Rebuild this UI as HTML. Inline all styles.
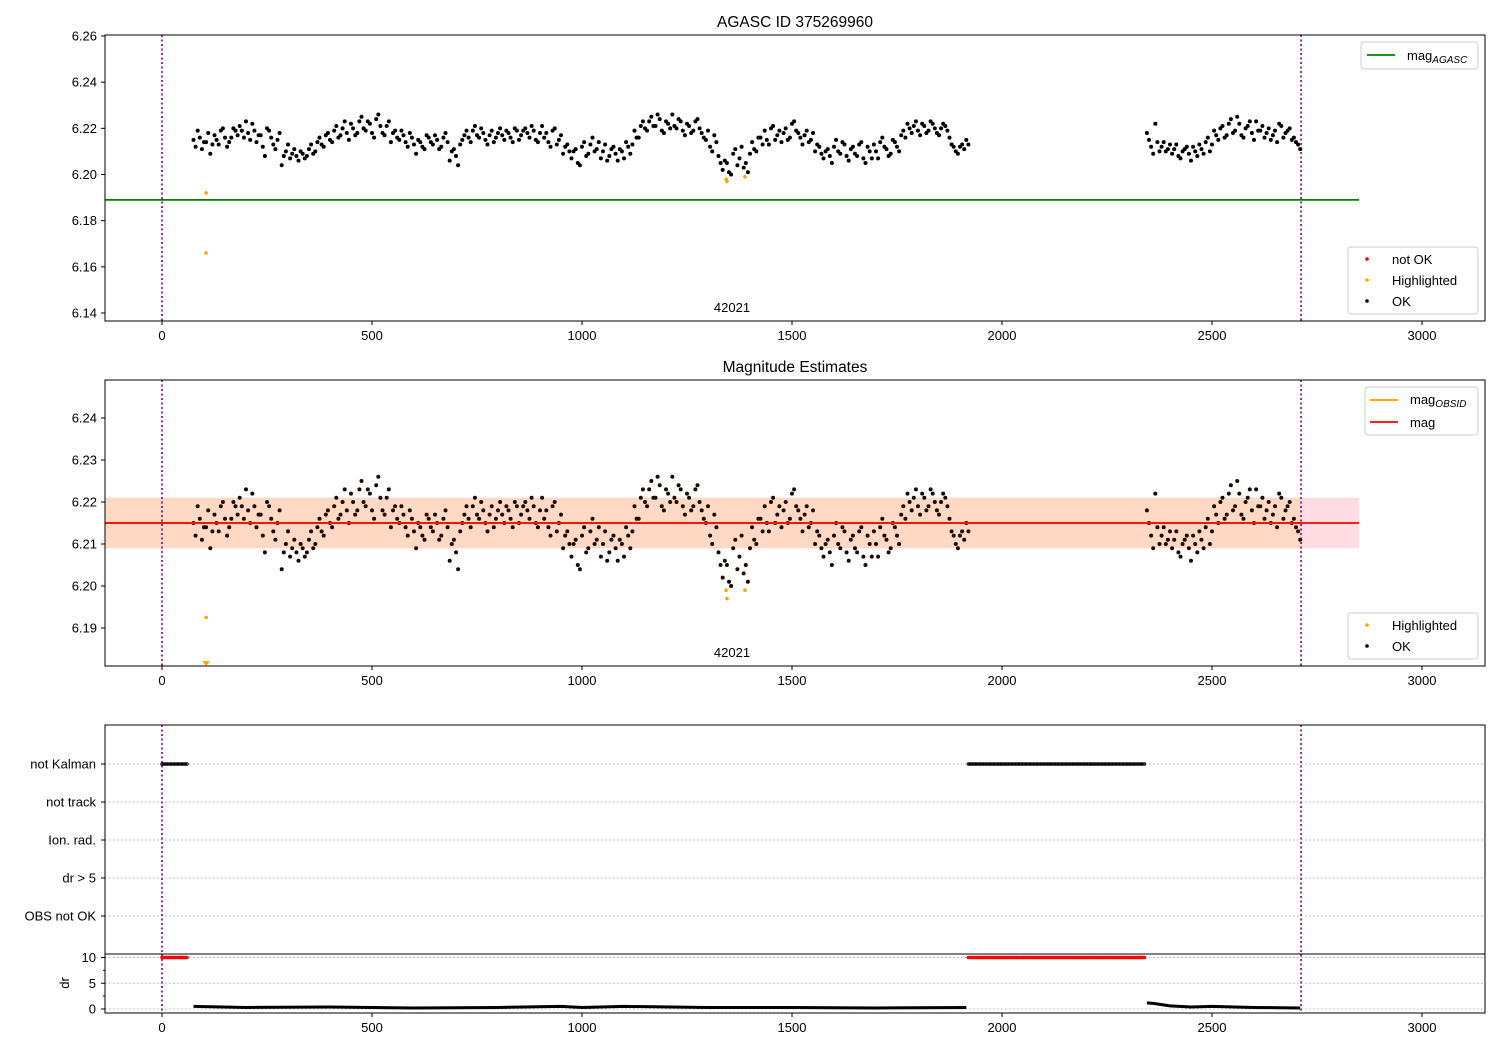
<!DOCTYPE html>
<html><head><meta charset="utf-8">
<style>
html,body{margin:0;padding:0;background:#fff;}
svg{display:block;font-family:"Liberation Sans","DejaVu Sans",sans-serif;}
</style></head>
<body>
<svg id="chart" width="1500" height="1050" xmlns="http://www.w3.org/2000/svg"></svg>
<script>
// ---- data ----
const seg1Start = 75, seg2Start = 2345, stepT = 10;
const mags1 = [
6.215,6.219,6.211,6.214,6.209,6.217,6.213,6.220,6.212,6.216,
6.219,6.221,6.216,6.218,6.222,6.214,6.217,6.208,6.219,6.213,
6.215,6.204,6.210,6.207,6.211,6.206,6.209,6.208,6.213,6.210,
6.216,6.212,6.218,6.214,6.221,6.217,6.223,6.215,6.220,6.218,
6.225,6.219,6.222,6.216,6.226,6.218,6.221,6.214,6.219,6.215,
6.217,6.212,6.216,6.209,6.214,6.211,6.216,6.213,6.215,6.212,
6.218,6.206,6.211,6.204,6.215,6.219,6.214,6.221,6.216,6.218,
6.213,6.219,6.216,6.220,6.215,6.218,6.214,6.219,6.217,6.220,
6.216,6.219,6.214,6.221,6.218,6.212,6.220,6.215,6.209,6.213,
6.207,6.211,6.204,6.214,6.209,6.216,6.211,6.207,6.213,6.208,
6.212,6.206,6.210,6.214,6.209,6.219,6.216,6.223,6.219,6.225,
6.221,6.224,6.218,6.222,6.226,6.220,6.223,6.217,6.221,6.219,
6.224,6.218,6.215,6.212,6.217,6.208,6.202,6.205,6.200,6.211,
6.207,6.203,6.201,6.214,6.210,6.216,6.219,6.213,6.221,6.217,
6.214,6.220,6.216,6.223,6.218,6.213,6.219,6.215,6.210,6.212,
6.207,6.211,6.205,6.215,6.209,6.213,6.206,6.212,6.208,6.214,
6.205,6.210,6.213,6.207,6.216,6.211,6.209,6.214,6.210,6.219,
6.222,6.218,6.223,6.217,6.221,6.219,6.222,6.218,6.220,6.221,
6.216,6.212,6.209,6.213,6.215];
const mags1b = [
6.212,6.216,6.214,6.218,6.213,6.215,6.219,6.216,6.214,6.220,
6.217,6.219,6.223,6.215,6.219,6.217,6.212,6.220,6.216,6.211,
6.218,6.208,6.213,6.209,6.208,6.210,6.207,6.211,6.209,6.214,
6.213,6.217,6.215,6.219,6.216,6.220,6.218,6.222,6.217,6.223,
6.220,6.223,6.218,6.224,6.221,6.217,6.223,6.218,6.216,6.219,
6.214,6.218,6.213,6.215,6.212,6.217,6.214,6.217,6.211,6.216,
6.214,6.210,6.208,6.213,6.217,6.216,6.219,6.217,6.220,6.215,
6.217,6.214,6.218,6.217,6.219,6.216,6.220,6.215,6.219,6.218,
6.221,6.215,6.218,6.216,6.214,6.219,6.213,6.217,6.212,6.210,
6.210,6.205,6.212,6.208,6.213,6.210,6.214,6.210,6.206,6.211,
6.209,6.211,6.207,6.212,6.213,6.216,6.221,6.220,6.223,6.221,
6.226,6.219,6.223,6.220,6.221,6.224,6.219,6.222,6.218,6.223,
6.220,6.216,6.219,6.210,6.214,6.205,6.206,6.201,6.209,6.204,
6.212,6.205,6.209,6.211,6.216,6.213,6.215,6.220,6.215,6.219,
6.218,6.215,6.222,6.219,6.216,6.217,6.214,6.218,6.213,6.209,
6.210,6.208,6.212,6.210,6.214,6.208,6.211,6.209,6.213,6.207,
6.212,6.207,6.210,6.214,6.212,6.208,6.215,6.212,6.217,6.216,
6.220,6.221,6.219,6.222,6.218,6.223,6.220,6.217,6.222,6.219,
6.213,6.210,6.212,6.211,6.213];
const mags2 = [
6.218,6.212,6.222,6.210,6.214,6.211,6.209,6.213,6.207,6.211,
6.209,6.212,6.208,6.211,6.214,6.210,6.219,6.215,6.221,6.217,
6.224,6.219,6.222,6.216,6.221,6.218,6.223,6.219,6.216,6.220,
6.217,6.214,6.221,6.218,6.220,6.216,6.213];
const mags2b = [
6.215,6.209,6.214,6.212,6.210,6.213,6.211,6.208,6.210,6.212,
6.206,6.210,6.213,6.209,6.216,6.213,6.217,6.220,6.216,6.222,
6.218,6.225,6.217,6.220,6.223,6.215,6.219,6.221,6.218,6.215,
6.219,6.222,6.216,6.219,6.215,6.214,6.211];
const hlTimes1 = [105,105,1343,1345,1388];
const hlMags1 = [6.192,6.166,6.198,6.197,6.199];
const hlTimes2 = [105,1343,1345,1388];
const hlMags2 = [6.1925,6.199,6.197,6.199];
const magAgasc = 6.189;
const magObsid = 6.215, magObsidErr = 0.006;
const mag = 6.215, magErr = 0.006;
const notKalmanRanges = [[0,62],[1920,2342]];
const drTimes = [75,200,400,600,800,950,1000,1100,1300,1500,1700,1915,2345,2360,2400,2450,2500,2600,2710];
const drVals  = [0.5,0.3,0.4,0.2,0.3,0.5,0.3,0.5,0.3,0.3,0.2,0.3,1.2,1.1,0.6,0.4,0.5,0.3,0.2];
const xTicks = [0,500,1000,1500,2000,2500,3000];
const yTicks1 = [6.14,6.16,6.18,6.20,6.22,6.24,6.26];
const yTicks2 = [6.19,6.20,6.21,6.22,6.23,6.24];
const catLabels = ["not Kalman","not track","Ion. rad.","dr > 5","OBS not OK"];
const drTicks = [0,5,10];
const obsStart = 0, obsEnd = 2712, lineEnd = 2850;

// ---- helpers ----
const svg = document.getElementById('chart');
const NS = 'http://www.w3.org/2000/svg';
function mk(tag, attrs, parent){ const e=document.createElementNS(NS,tag); for(const k in attrs) e.setAttribute(k,attrs[k]); (parent||svg).appendChild(e); return e; }
const X0=105, X1=1485;
function xs(t){ return 162 + t*0.42; }
function y1(m){ return 313 - (m-6.14)/0.12*277; }
function y2(m){ return 628 - (m-6.19)/0.05*210; }
function ydr(d){ return 1009 - d*5.15; }
const catY = [764,802,840,878,916];

function xAxis(yb){
  xTicks.forEach(t=>{
    mk('line',{x1:xs(t),x2:xs(t),y1:yb,y2:yb+4,stroke:'#000'});
    const tx=mk('text',{x:xs(t),y:yb+19,'font-size':13,'text-anchor':'middle'}); tx.textContent=t;
    
    
  });
}
function frame(y0,y1_,name){
  const r=mk('rect',{x:X0,y:y0,width:X1-X0,height:y1_-y0,fill:'none',stroke:'#000','stroke-width':1});
  
  
}
function vlines(y0,y1_){
  [obsStart,obsEnd].forEach(t=>{
    const l=mk('line',{x1:xs(t),x2:xs(t),y1:y0,y2:y1_,stroke:'#800080','stroke-width':1.6,'stroke-dasharray':'2,2.5'});
    
    
  });
}
function dots(ts, ms, yf, color, r, name){
  const g=mk('g',{});
  
  
  ts.forEach((t,i)=>{ mk('circle',{cx:xs(t),cy:yf(ms[i]),r:r,fill:color},g); });
}
const t1 = mags1.map((_,i)=>seg1Start+i*stepT);
const t1b = mags1b.map((_,i)=>seg1Start+5+i*stepT);
const t2 = mags2.map((_,i)=>seg2Start+i*stepT);
const t2b = mags2b.map((_,i)=>seg2Start+5+i*stepT);

// ================= Panel 1 =================
(function(){
  const top=35,bot=321;
  let tt=mk('text',{x:795,y:27,'font-size':15.5,'text-anchor':'middle'}); tt.textContent='AGASC ID 375269960';
   
  yTicks1.forEach(v=>{
    const y=y1(v); mk('line',{x1:X0-4,x2:X0,y1:y,y2:y,stroke:'#000'});
    const t=mk('text',{x:X0-8,y:y+4.5,'font-size':13,'text-anchor':'end'}); t.textContent=v.toFixed(2);
     
  });
  const gl=mk('line',{x1:X0,x2:xs(lineEnd),y1:y1(magAgasc),y2:y1(magAgasc),stroke:'#008000','stroke-width':1.8});
   
  vlines(top,bot);
  dots(t1,mags1,y1,'#000',2,'ok-points-seg1');
  dots(t1b,mags1b,y1,'#000',2,'ok-points-seg1b');
  dots(t2,mags2,y1,'#000',2,'ok-points-seg2');
  dots(t2b,mags2b,y1,'#000',2,'ok-points-seg2b');
  dots(hlTimes1,hlMags1,y1,'orange',1.8,'highlighted-points');
  let o=mk('text',{x:732,y:312,'font-size':13,'text-anchor':'middle'}); o.textContent='42021';
   
  frame(top,bot,'top-axes');
  xAxis(bot);
  const lg=mk('g',{});  
  mk('rect',{x:1361,y:42,width:117,height:27,rx:3,fill:'#fff',stroke:'#ccc'},lg);
  mk('line',{x1:1367,x2:1395,y1:55,y2:55,stroke:'#008000','stroke-width':1.8},lg);
  let lt=mk('text',{x:1407,y:60,'font-size':13},lg); lt.innerHTML='mag<tspan font-size="10" font-style="italic" dy="3">AGASC</tspan>';
  const lg2=mk('g',{});  
  mk('rect',{x:1348,y:247,width:130,height:67,rx:3,fill:'#fff',stroke:'#ccc'},lg2);
  [['not OK','red',259],['Highlighted','orange',280],['OK','#000',301]].forEach(([s,c,y])=>{
    mk('circle',{cx:1367,cy:y,r:1.8,fill:c},lg2);
    const t=mk('text',{x:1392,y:y+5,'font-size':13},lg2); t.textContent=s;
  });
})();

// ================= Panel 2 =================
(function(){
  const top=380,bot=666;
  let tt=mk('text',{x:795,y:372,'font-size':15.5,'text-anchor':'middle'}); tt.textContent='Magnitude Estimates';
   
  yTicks2.forEach(v=>{
    const y=y2(v); mk('line',{x1:X0-4,x2:X0,y1:y,y2:y,stroke:'#000'});
    const t=mk('text',{x:X0-8,y:y+4.5,'font-size':13,'text-anchor':'end'}); t.textContent=v.toFixed(2);
     
  });
  const b1=mk('rect',{x:X0,y:y2(mag+magErr),width:xs(lineEnd)-X0,height:y2(mag-magErr)-y2(mag+magErr),fill:'#ffdde3'});
   
  const b2=mk('rect',{x:X0,y:y2(magObsid+magObsidErr),width:xs(obsEnd)-X0,height:y2(magObsid-magObsidErr)-y2(magObsid+magObsidErr),fill:'#ffd9c3'});
   
  vlines(top,bot);
  dots(t1,mags1,y2,'#1a0a00',2,'ok-points-seg1');
  dots(t1b,mags1b,y2,'#1a0a00',2,'ok-points-seg1b');
  dots(t2,mags2,y2,'#1a0a00',2,'ok-points-seg2');
  dots(t2b,mags2b,y2,'#1a0a00',2,'ok-points-seg2b');
  dots(hlTimes2,hlMags2,y2,'orange',1.8,'highlighted-points');
  const tri=mk('path',{d:`M${xs(105)-4},${661} L${xs(105)+4},661 L${xs(105)},666 Z`,fill:'orange'});
   
  mk('line',{x1:X0,x2:xs(obsEnd),y1:y2(magObsid),y2:y2(magObsid),stroke:'orange','stroke-width':2});
  const rl=mk('line',{x1:X0,x2:xs(lineEnd),y1:y2(mag),y2:y2(mag),stroke:'red','stroke-width':1.8});
   
  let o=mk('text',{x:732,y:657,'font-size':13,'text-anchor':'middle'}); o.textContent='42021';
   
  frame(top,bot,'middle-axes');
  xAxis(bot);
  const lg=mk('g',{});  
  mk('rect',{x:1365,y:387,width:113,height:48,rx:3,fill:'#fff',stroke:'#ccc'},lg);
  mk('line',{x1:1370,x2:1398,y1:400,y2:400,stroke:'orange','stroke-width':2},lg);
  let lt=mk('text',{x:1410,y:404,'font-size':13},lg); lt.innerHTML='mag<tspan font-size="10" font-style="italic" dy="3">OBSID</tspan>';
  mk('line',{x1:1370,x2:1398,y1:422,y2:422,stroke:'red','stroke-width':1.8},lg);
  let lt2=mk('text',{x:1410,y:427,'font-size':13},lg); lt2.textContent='mag';
  const lg2=mk('g',{});  
  mk('rect',{x:1348,y:613,width:130,height:46,rx:3,fill:'#fff',stroke:'#ccc'},lg2);
  [['Highlighted','orange',625],['OK','#000',646]].forEach(([s,c,y])=>{
    mk('circle',{cx:1367,cy:y,r:1.8,fill:c},lg2);
    const t=mk('text',{x:1392,y:y+5,'font-size':13},lg2); t.textContent=s;
  });
})();

// ================= Panel 3 =================
(function(){
  const top=725,sep=954,bot=1013;
  catLabels.forEach((s,i)=>{
    const y=catY[i];
    mk('line',{x1:X0,x2:X1,y1:y,y2:y,stroke:'#b0b0b0','stroke-dasharray':'1.5,2.5'});
    mk('line',{x1:X0-4,x2:X0,y1:y,y2:y,stroke:'#000'});
    const t=mk('text',{x:X0-9,y:y+4.5,'font-size':13,'text-anchor':'end'}); t.textContent=s;
     
  });
  drTicks.forEach(v=>{
    const y=ydr(v);
    mk('line',{x1:X0,x2:X1,y1:y,y2:y,stroke:'#b0b0b0','stroke-dasharray':'1.5,2.5'});
    mk('line',{x1:X0-4,x2:X0,y1:y,y2:y,stroke:'#000'});
    const t=mk('text',{x:X0-9,y:y+4.5,'font-size':13,'text-anchor':'end'}); t.textContent=v;
     
  });
  [2.5,7.5].forEach(v=>mk('line',{x1:X0-2,x2:X0,y1:ydr(v),y2:ydr(v),stroke:'#000'}));
  const dl=mk('text',{x:0,y:0,'font-size':13,'text-anchor':'middle',transform:'translate(69,983) rotate(-90)'}); dl.textContent='dr';
   
  vlines(top,bot);
  const gk=mk('g',{});  
  const gr=mk('g',{});  
  notKalmanRanges.forEach(([a,b])=>{
    for(let t=a;t<=b;t+=3.3){
      mk('circle',{cx:xs(t),cy:catY[0],r:1.3,fill:'none',stroke:'#000','stroke-width':0.9},gk);
      mk('circle',{cx:xs(t),cy:ydr(10),r:1.8,fill:'red'},gr);
    }
  });
  const pts=drTimes.map((t,i)=>xs(t)+','+ydr(drVals[i]));
  const p1=mk('polyline',{points:pts.slice(0,12).join(' '),fill:'none',stroke:'#000','stroke-width':3});
   
  const p2=mk('polyline',{points:pts.slice(12).join(' '),fill:'none',stroke:'#000','stroke-width':3});
   
  frame(top,bot,'bottom-axes');
  mk('line',{x1:X0,x2:X1,y1:sep,y2:sep,stroke:'#000'});
  xAxis(bot);
})();
</script>
</body></html>
